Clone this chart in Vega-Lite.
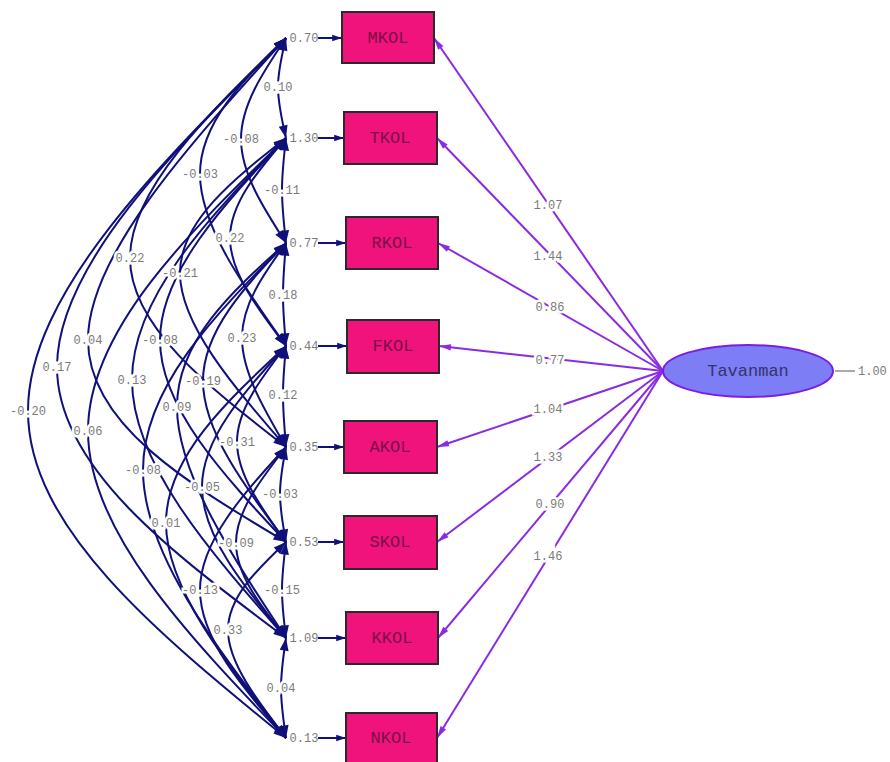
{
  "$schema": "https://vega.github.io/schema/vega-lite/v6.json",
  "width": 890,
  "height": 762,
  "autosize": {"type": "none"},
  "padding": 0,
  "background": "white",
  "config": {"view": {"stroke": null}},
  "datasets": {
    "nodes": [
      {"name": "MKOL", "x1": 342, "x2": 434, "y1": 12, "y2": 63, "cx": 388, "cy": 38, "err": "0.70", "lab": "1.07", "lx": 548, "ly": 205, "sx": 663, "sy": 371, "ex": 304, "ax": 318},
      {"name": "TKOL", "x1": 344, "x2": 437, "y1": 112, "y2": 164, "cx": 390, "cy": 138, "err": "1.30", "lab": "1.44", "lx": 548, "ly": 256, "sx": 663, "sy": 371, "ex": 304, "ax": 318},
      {"name": "RKOL", "x1": 346, "x2": 438, "y1": 217, "y2": 269, "cx": 392, "cy": 243, "err": "0.77", "lab": "0.86", "lx": 550, "ly": 307, "sx": 663, "sy": 371, "ex": 304, "ax": 318},
      {"name": "FKOL", "x1": 347, "x2": 439, "y1": 320, "y2": 373, "cx": 393, "cy": 346, "err": "0.44", "lab": "0.77", "lx": 550, "ly": 360, "sx": 663, "sy": 371, "ex": 304, "ax": 318},
      {"name": "AKOL", "x1": 344, "x2": 437, "y1": 421, "y2": 473, "cx": 390, "cy": 447, "err": "0.35", "lab": "1.04", "lx": 548, "ly": 409, "sx": 663, "sy": 371, "ex": 304, "ax": 318},
      {"name": "SKOL", "x1": 344, "x2": 437, "y1": 516, "y2": 569, "cx": 390, "cy": 542, "err": "0.53", "lab": "1.33", "lx": 548, "ly": 457, "sx": 663, "sy": 371, "ex": 304, "ax": 318},
      {"name": "KKOL", "x1": 346, "x2": 438, "y1": 612, "y2": 664, "cx": 392, "cy": 638, "err": "1.09", "lab": "0.90", "lx": 550, "ly": 504, "sx": 663, "sy": 371, "ex": 304, "ax": 318},
      {"name": "NKOL", "x1": 346, "x2": 437, "y1": 713, "y2": 766, "cx": 391, "cy": 738, "err": "0.13", "lab": "1.46", "lx": 548, "ly": 556, "sx": 663, "sy": 371, "ex": 304, "ax": 318}
    ],
    "arcs": [
      {"id": "MT", "lab": "0.10", "s": {"x": 286, "y": 38}, "m": {"x": 278, "y": 87}, "e": {"x": 286, "y": 138}},
      {"id": "TR", "lab": "-0.11", "s": {"x": 286, "y": 138}, "m": {"x": 282, "y": 190}, "e": {"x": 286, "y": 243}},
      {"id": "RF", "lab": "0.18", "s": {"x": 286, "y": 243}, "m": {"x": 283, "y": 295}, "e": {"x": 286, "y": 346}},
      {"id": "FA", "lab": "0.12", "s": {"x": 286, "y": 346}, "m": {"x": 283, "y": 395}, "e": {"x": 286, "y": 447}},
      {"id": "AS", "lab": "-0.03", "s": {"x": 286, "y": 447}, "m": {"x": 280, "y": 494}, "e": {"x": 286, "y": 542}},
      {"id": "SK", "lab": "-0.15", "s": {"x": 286, "y": 542}, "m": {"x": 282, "y": 590}, "e": {"x": 286, "y": 638}},
      {"id": "KN", "lab": "0.04", "s": {"x": 286, "y": 638}, "m": {"x": 281, "y": 688}, "e": {"x": 286, "y": 738}},
      {"id": "MR", "lab": "-0.08", "s": {"x": 286, "y": 38}, "m": {"x": 241, "y": 139}, "e": {"x": 286, "y": 243}},
      {"id": "TF", "lab": "0.22", "s": {"x": 286, "y": 138}, "m": {"x": 230, "y": 238}, "e": {"x": 286, "y": 346}},
      {"id": "RA", "lab": "0.23", "s": {"x": 286, "y": 243}, "m": {"x": 242, "y": 338}, "e": {"x": 286, "y": 447}},
      {"id": "FS", "lab": "-0.31", "s": {"x": 286, "y": 346}, "m": {"x": 237, "y": 442}, "e": {"x": 286, "y": 542}},
      {"id": "AK", "lab": "-0.09", "s": {"x": 286, "y": 447}, "m": {"x": 236, "y": 543}, "e": {"x": 286, "y": 638}},
      {"id": "SN", "lab": "0.33", "s": {"x": 286, "y": 542}, "m": {"x": 228, "y": 630}, "e": {"x": 286, "y": 738}},
      {"id": "MF", "lab": "-0.03", "s": {"x": 286, "y": 38}, "m": {"x": 200, "y": 174}, "e": {"x": 286, "y": 346}},
      {"id": "TA", "lab": "-0.21", "s": {"x": 286, "y": 138}, "m": {"x": 180, "y": 273}, "e": {"x": 286, "y": 447}},
      {"id": "RS", "lab": "-0.19", "s": {"x": 286, "y": 243}, "m": {"x": 203, "y": 381}, "e": {"x": 286, "y": 542}},
      {"id": "FK", "lab": "-0.05", "s": {"x": 286, "y": 346}, "m": {"x": 202, "y": 487}, "e": {"x": 286, "y": 638}},
      {"id": "AN", "lab": "-0.13", "s": {"x": 286, "y": 447}, "m": {"x": 200, "y": 590}, "e": {"x": 286, "y": 738}},
      {"id": "MA", "lab": "0.22", "s": {"x": 286, "y": 38}, "m": {"x": 130, "y": 258}, "e": {"x": 286, "y": 447}},
      {"id": "TS", "lab": "-0.08", "s": {"x": 286, "y": 138}, "m": {"x": 160, "y": 340}, "e": {"x": 286, "y": 542}},
      {"id": "RK", "lab": "0.09", "s": {"x": 286, "y": 243}, "m": {"x": 177, "y": 407}, "e": {"x": 286, "y": 638}},
      {"id": "FN", "lab": "0.01", "s": {"x": 286, "y": 346}, "m": {"x": 166, "y": 523}, "e": {"x": 286, "y": 738}},
      {"id": "MS", "lab": "0.04", "s": {"x": 286, "y": 38}, "m": {"x": 88, "y": 340}, "e": {"x": 286, "y": 542}},
      {"id": "TK", "lab": "0.13", "s": {"x": 286, "y": 138}, "m": {"x": 132, "y": 380}, "e": {"x": 286, "y": 638}},
      {"id": "RN", "lab": "-0.08", "s": {"x": 286, "y": 243}, "m": {"x": 143, "y": 470}, "e": {"x": 286, "y": 738}},
      {"id": "MK", "lab": "0.17", "s": {"x": 286, "y": 38}, "m": {"x": 57, "y": 367}, "e": {"x": 286, "y": 638}},
      {"id": "TN", "lab": "0.06", "s": {"x": 286, "y": 138}, "m": {"x": 88, "y": 431}, "e": {"x": 286, "y": 738}},
      {"id": "MN", "lab": "-0.20", "s": {"x": 286, "y": 38}, "m": {"x": 28, "y": 411}, "e": {"x": 286, "y": 738}}
    ],
    "latent": [
      {"name": "Tavanman", "x": 748, "y": 371, "v": "1.00", "r1": 835, "r2": 855, "tx": 858}
    ]
  },
  "layer": [
    {
      "data": {"name": "arcs"},
      "transform": [{"fold": ["s", "m", "e"], "as": ["k", "p"]}],
      "mark": {"type": "line", "interpolate": "natural", "color": "#10107a", "strokeWidth": 2},
      "encoding": {
        "x": {"field": "p.x", "type": "quantitative", "scale": {"domain": [0, 890], "nice": false, "zero": false}, "axis": null},
        "y": {"field": "p.y", "type": "quantitative", "scale": {"domain": [0, 762], "nice": false, "zero": false, "reverse": true}, "axis": null},
        "detail": {"field": "id"},
        "order": {"field": "k", "sort": "descending"}
      }
    },
    {
      "data": {"name": "nodes"},
      "mark": {"type": "text", "font": "Liberation Mono", "fontSize": 12, "color": "#7a7a7a", "align": "center", "baseline": "middle"},
      "encoding": {
        "x": {"field": "ex", "type": "quantitative"},
        "y": {"field": "cy", "type": "quantitative"},
        "text": {"field": "err"}
      }
    },
    {
      "data": {"name": "arcs"},
      "transform": [{"calculate": "atan2(-(1.5*datum.m.x-1.25*datum.s.x-0.25*datum.e.x), (1.5*datum.m.y-1.25*datum.s.y-0.25*datum.e.y))*180/PI", "as": "a0"}],
      "mark": {"type": "point", "shape": "M0,0L-1,2.8L1,2.8Z", "size": 81, "filled": true, "opacity": 1, "color": "#10107a"},
      "encoding": {
        "x": {"field": "s.x", "type": "quantitative"},
        "y": {"field": "s.y", "type": "quantitative"},
        "angle": {"field": "a0", "type": "quantitative", "scale": null}
      }
    },
    {
      "data": {"name": "arcs"},
      "transform": [{"calculate": "atan2(1.25*datum.e.x+0.25*datum.s.x-1.5*datum.m.x, -(1.25*datum.e.y+0.25*datum.s.y-1.5*datum.m.y))*180/PI", "as": "a1"}],
      "mark": {"type": "point", "shape": "M0,0L-1,2.8L1,2.8Z", "size": 81, "filled": true, "opacity": 1, "color": "#10107a"},
      "encoding": {
        "x": {"field": "e.x", "type": "quantitative"},
        "y": {"field": "e.y", "type": "quantitative"},
        "angle": {"field": "a1", "type": "quantitative", "scale": null}
      }
    },
    {
      "data": {"name": "nodes"},
      "mark": {"type": "rule", "color": "#8a2be2", "strokeWidth": 2},
      "encoding": {
        "x": {"field": "sx", "type": "quantitative"},
        "y": {"field": "sy", "type": "quantitative"},
        "x2": {"field": "x2"},
        "y2": {"field": "cy"}
      }
    },
    {
      "data": {"name": "nodes"},
      "transform": [{"calculate": "atan2(datum.x2-datum.sx, datum.sy-datum.cy)*180/PI", "as": "la"}],
      "mark": {"type": "point", "shape": "M0,0L-0.8,3L0.8,3Z", "size": 64, "filled": true, "opacity": 1, "color": "#8a2be2"},
      "encoding": {
        "x": {"field": "x2", "type": "quantitative"},
        "y": {"field": "cy", "type": "quantitative"},
        "angle": {"field": "la", "type": "quantitative", "scale": null}
      }
    },
    {
      "data": {"name": "nodes"},
      "mark": {"type": "rule", "color": "#10107a", "strokeWidth": 2},
      "encoding": {
        "x": {"field": "ax", "type": "quantitative"},
        "y": {"field": "cy", "type": "quantitative"},
        "x2": {"field": "x1"}
      }
    },
    {
      "data": {"name": "nodes"},
      "mark": {"type": "point", "shape": "M0,0L-0.9,2.8L0.9,2.8Z", "size": 49, "filled": true, "opacity": 1, "color": "#10107a", "angle": 90},
      "encoding": {
        "x": {"field": "x1", "type": "quantitative"},
        "y": {"field": "cy", "type": "quantitative"}
      }
    },
    {
      "data": {"name": "nodes"},
      "mark": {"type": "rect", "fill": "#f0137c", "stroke": "#2a2a2a", "strokeWidth": 2},
      "encoding": {
        "x": {"field": "x1", "type": "quantitative"},
        "x2": {"field": "x2"},
        "y": {"field": "y1", "type": "quantitative"},
        "y2": {"field": "y2"}
      }
    },
    {
      "data": {"name": "nodes"},
      "mark": {"type": "text", "font": "Liberation Mono", "fontSize": 17, "color": "#7a1048", "align": "center", "baseline": "middle"},
      "encoding": {
        "x": {"field": "cx", "type": "quantitative"},
        "y": {"field": "cy", "type": "quantitative"},
        "text": {"field": "name"}
      }
    },
    {
      "data": {"name": "latent"},
      "mark": {"type": "rule", "color": "#aaaaaa", "strokeWidth": 2},
      "encoding": {
        "x": {"field": "r1", "type": "quantitative"},
        "x2": {"field": "r2"},
        "y": {"field": "y", "type": "quantitative"}
      }
    },
    {
      "data": {"name": "latent"},
      "mark": {"type": "point", "shape": "M-1,0A1,0.306,0,1,0,1,0A1,0.306,0,1,0,-1,0Z", "size": 28900, "filled": true, "opacity": 1, "fill": "#7d7df5", "stroke": "#7a1fe0", "strokeWidth": 2},
      "encoding": {
        "x": {"field": "x", "type": "quantitative"},
        "y": {"field": "y", "type": "quantitative"}
      }
    },
    {
      "data": {"name": "latent"},
      "mark": {"type": "text", "font": "Liberation Mono", "fontSize": 17, "color": "#33336b", "align": "center", "baseline": "middle"},
      "encoding": {
        "x": {"field": "x", "type": "quantitative"},
        "y": {"field": "y", "type": "quantitative"},
        "text": {"field": "name"}
      }
    },
    {
      "data": {"name": "latent"},
      "mark": {"type": "text", "font": "Liberation Mono", "fontSize": 12, "color": "#7a7a7a", "align": "left", "baseline": "middle"},
      "encoding": {
        "x": {"field": "tx", "type": "quantitative"},
        "y": {"field": "y", "type": "quantitative"},
        "text": {"field": "v"}
      }
    },
    {
      "data": {"name": "arcs"},
      "mark": {"type": "text", "font": "Liberation Mono", "fontSize": 12, "stroke": "white", "strokeWidth": 5, "color": "white", "align": "center", "baseline": "middle"},
      "encoding": {
        "x": {"field": "m.x", "type": "quantitative"},
        "y": {"field": "m.y", "type": "quantitative"},
        "text": {"field": "lab"}
      }
    },
    {
      "data": {"name": "arcs"},
      "mark": {"type": "text", "font": "Liberation Mono", "fontSize": 12, "color": "#7a7a7a", "align": "center", "baseline": "middle"},
      "encoding": {
        "x": {"field": "m.x", "type": "quantitative"},
        "y": {"field": "m.y", "type": "quantitative"},
        "text": {"field": "lab"}
      }
    },
    {
      "data": {"name": "nodes"},
      "mark": {"type": "text", "font": "Liberation Mono", "fontSize": 12, "stroke": "white", "strokeWidth": 5, "color": "white", "align": "center", "baseline": "middle"},
      "encoding": {
        "x": {"field": "lx", "type": "quantitative"},
        "y": {"field": "ly", "type": "quantitative"},
        "text": {"field": "lab"}
      }
    },
    {
      "data": {"name": "nodes"},
      "mark": {"type": "text", "font": "Liberation Mono", "fontSize": 12, "color": "#7a7a7a", "align": "center", "baseline": "middle"},
      "encoding": {
        "x": {"field": "lx", "type": "quantitative"},
        "y": {"field": "ly", "type": "quantitative"},
        "text": {"field": "lab"}
      }
    }
  ]
}
